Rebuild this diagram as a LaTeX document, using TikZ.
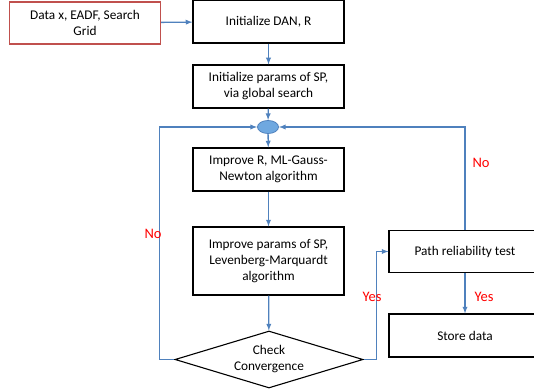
\documentclass[tikz,border=0pt]{standalone}
\usepackage{fontspec}
\setmainfont{Carlito}
\usepackage{tikz}
\usetikzlibrary{arrows,backgrounds}
\usetikzlibrary{positioning}
\usetikzlibrary{shapes.geometric}
\definecolor{flowblue}{RGB}{79,129,189}
\definecolor{boxred}{RGB}{192,80,77}
\definecolor{joinfill}{RGB}{111,168,224}
\tikzstyle{block}=[rectangle, draw=black, line width=1.1pt, minimum width=151pt, minimum height=43pt, align=center]
\tikzset{>=latex}

\begin{document}
\begin{tikzpicture}[x=1pt, y=1pt, font=\fontsize{13.3}{16}\selectfont]
        \tikzstyle{flow}=[draw=flowblue, line width=1.3pt, ->]
        \tikzstyle{answer}=[text=red, font=\fontsize{14.5}{16}\selectfont]
        \useasboundingbox (0,0) rectangle (534,-390);

        % Input
        \node at (85, -23) [block, draw=boxred, minimum height=42pt] (data) {Data x, EADF, Search\\Grid};

        % Main column
        \node at (268.5, -21.5) [block] (init) {Initialize DAN, R};
        \node at (268.5, -86.5) [block] (initsp) {Initialize params of SP,\\via global search};
        \node at (268, -127) [ellipse, draw=flowblue, fill=joinfill, line width=0.8pt, minimum width=21pt, minimum height=13pt, inner sep=0pt] (join) {};
        \node at (268.5, -169.5) [block] (improver) {Improve R, ML-Gauss-\\Newton algorithm};
        \node at (268.5, -261) [block, minimum height=68pt] (improvesp) {Improve params of SP,\\Levenberg-Marquardt\\algorithm};
        \node at (269, -359.5) [diamond, draw=black, line width=1.1pt, aspect=3.3, minimum width=188pt, minimum height=57pt, inner sep=0pt, align=center] (check) {Check\\Convergence};

        % Right column
        \node at (465, -251.5) [block, minimum width=152pt, minimum height=42pt] (path) {Path reliability test};
        \node at (465, -335.5) [block, minimum width=152pt] (store) {Store data};

        % Column arrows
        \draw [flow] (data) -- (init);
        \draw [flow] (init) -- (initsp);
        \draw [flow] (initsp) -- (join);
        \draw [flow] (join) -- (improver);
        \draw [flow] (improver) -- (improvesp);
        \draw [flow] (improvesp) -- (check);

        % Loops
        \draw [flow] (check.west) -- ++(-15,0) |- (join.west);
        \draw [flow] (check.east) -- ++(13,0) |- (path.west);
        \draw [flow] (path.north) |- (join.east);
        \draw [flow] (path) -- (store);

        % Text
        \node at (153, -234) [answer] {No};
        \node at (481, -163) [answer] {No};
        \node at (372, -297) [answer] {Yes};
        \node at (484, -297) [answer] {Yes};
      \end{tikzpicture}
\end{document}
